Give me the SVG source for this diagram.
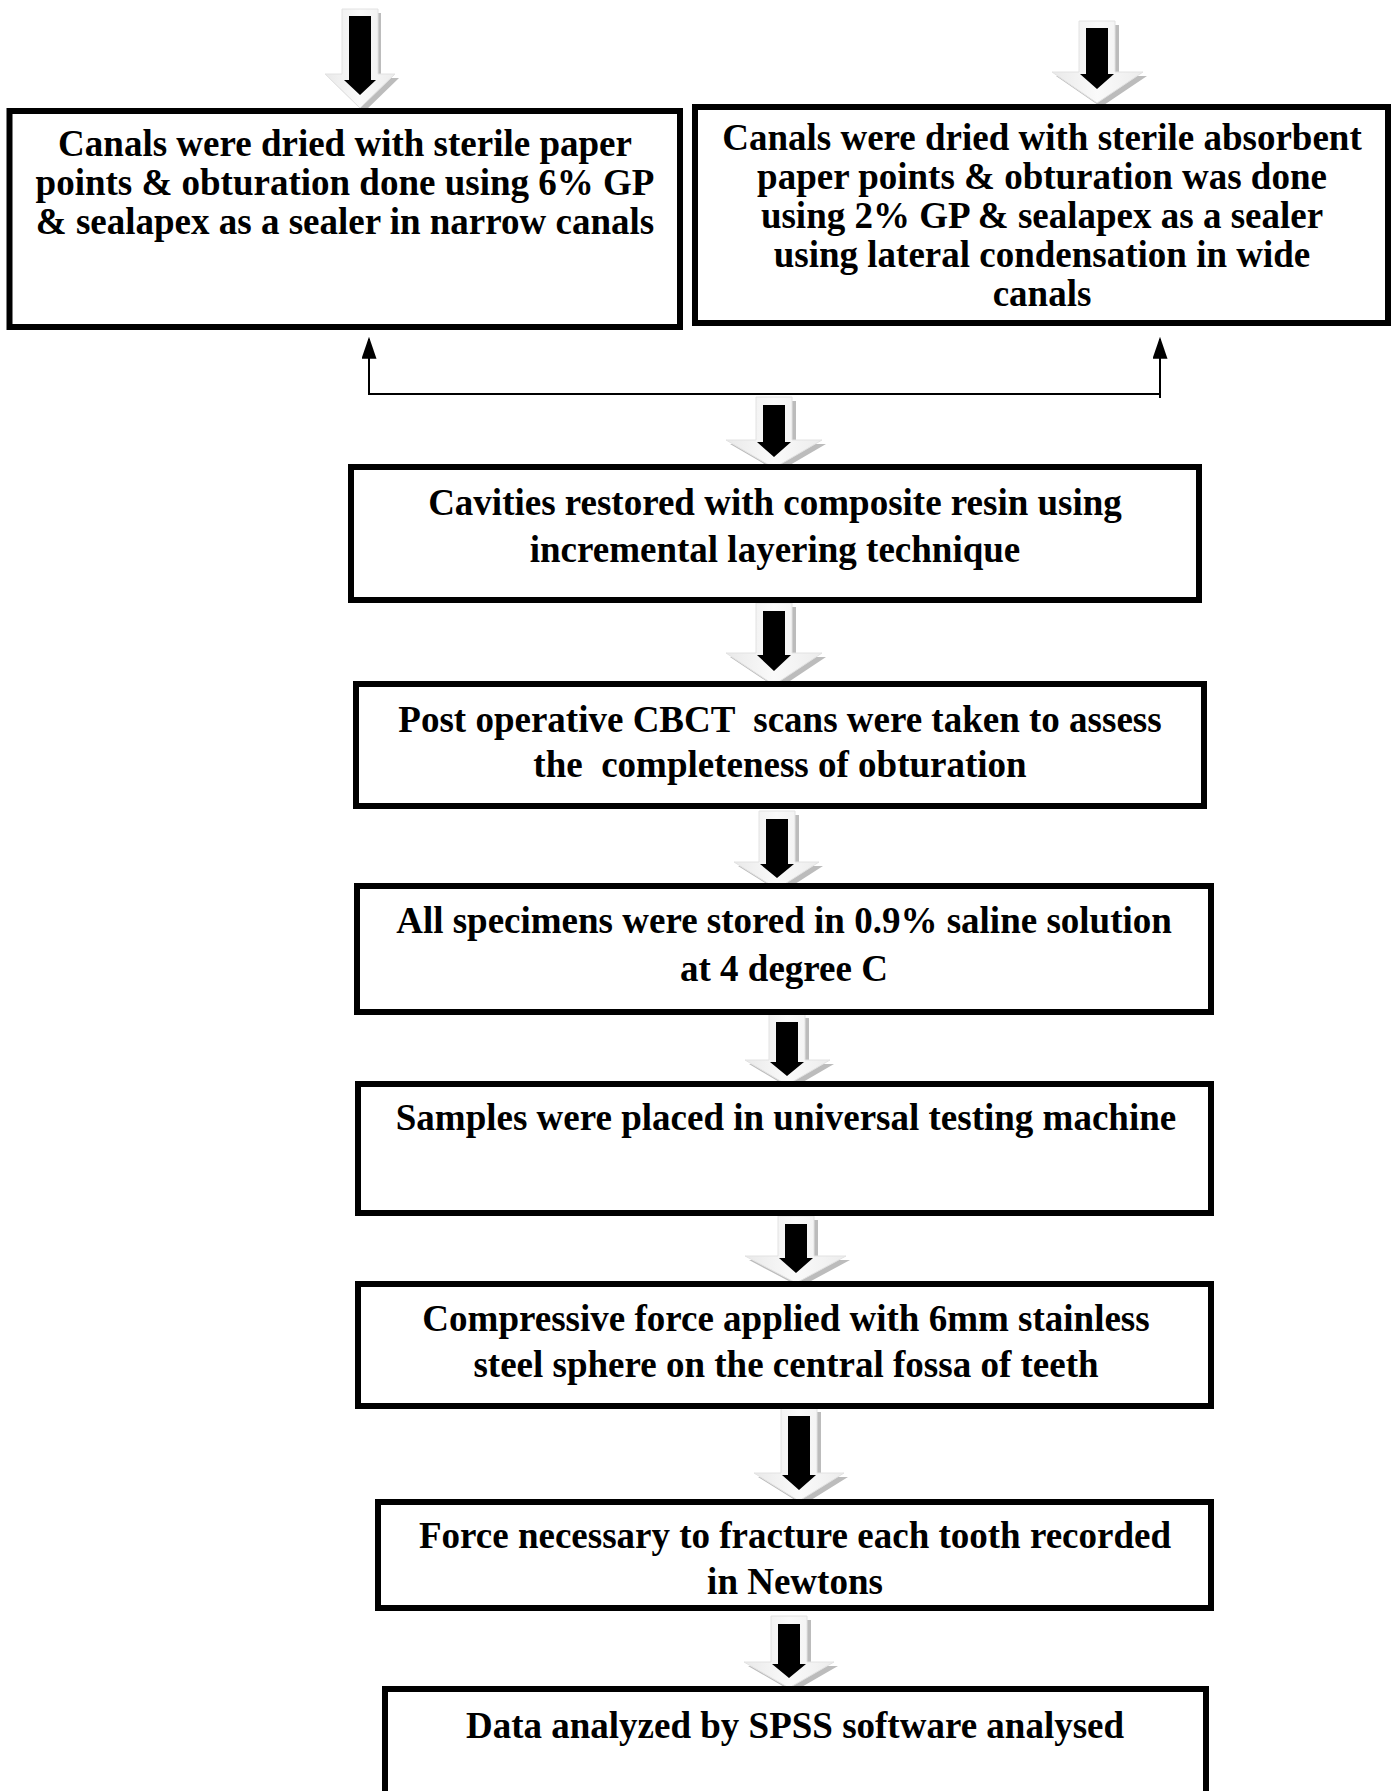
<svg xmlns="http://www.w3.org/2000/svg" width="1398" height="1791" viewBox="0 0 1398 1791">
<style>
.box{fill:#fff;stroke:#000;stroke-width:6}
.t{font-family:"Liberation Serif","Times New Roman",serif;font-weight:bold;font-size:37px;text-anchor:middle;fill:#000;white-space:pre}
.sh{fill:#bcbcbc}
.lt{fill:url(#lg);stroke:#e2e2e2;stroke-width:1}
.bk{fill:#000}
.ln{fill:none;stroke:#000;stroke-width:2}
</style>
<defs>
<linearGradient id="lg" x1="0" y1="0" x2="1" y2="0">
<stop offset="0" stop-color="#e9e9e9"/>
<stop offset="0.5" stop-color="#fafafa"/>
<stop offset="1" stop-color="#ececec"/>
</linearGradient>
<marker id="ah" viewBox="0 0 10 10" refX="9" refY="5" markerWidth="22" markerHeight="15" markerUnits="userSpaceOnUse" orient="auto" preserveAspectRatio="none">
<path d="M0,0 L10,5 L0,10 z" fill="#000"/>
</marker>
</defs>
<rect width="1398" height="1791" fill="#fff"/>

<g id="connectors">
<g id="a1"><polygon class="sh" points="345,13 381,13 381,78 399,78 364,112 329,78 345,78"/><polygon class="lt" points="342,9 378,9 378,74 395,74 360,108 325,74 342,74"/><polygon class="bk" points="349,16 371,16 371,80 376,80 360,95 344,80 349,80"/></g>
<g id="a2"><polygon class="sh" points="1083,25 1119,25 1119,76 1147,76 1101,107 1056,76 1083,76"/><polygon class="lt" points="1079,21 1115,21 1115,72 1143,72 1097,103 1052,72 1079,72"/><polygon class="bk" points="1086,28 1108,28 1108,74 1114,74 1097,89 1080,74 1086,74"/></g>
<g id="a3"><polygon class="sh" points="760,401 796,401 796,444 826,444 778,472 730,444 760,444"/><polygon class="lt" points="756,397 792,397 792,440 822,440 774,468 726,440 756,440"/><polygon class="bk" points="763,405 785,405 785,442 791,442 774,457 757,442 763,442"/></g>
<g id="a4"><polygon class="sh" points="760,607 796,607 796,657 826,657 778,689 730,657 760,657"/><polygon class="lt" points="756,603 792,603 792,653 822,653 774,685 726,653 756,653"/><polygon class="bk" points="763,611 785,611 785,655 791,655 774,671 757,655 763,655"/></g>
<g id="a5"><polygon class="sh" points="763,815 799,815 799,866 823,866 781,893 738,866 763,866"/><polygon class="lt" points="759,811 795,811 795,862 819,862 777,889 734,862 759,862"/><polygon class="bk" points="766,819 788,819 788,864 794,864 777,878 760,864 766,864"/></g>
<g id="a6"><polygon class="sh" points="773,1018 809,1018 809,1064 834,1064 791,1089 749,1064 773,1064"/><polygon class="lt" points="769,1014 805,1014 805,1060 830,1060 787,1085 745,1060 769,1060"/><polygon class="bk" points="776,1022 798,1022 798,1062 804,1062 787,1076 770,1062 776,1062"/></g>
<g id="a7"><polygon class="sh" points="782,1220 818,1220 818,1260 850,1260 800,1287 749,1260 782,1260"/><polygon class="lt" points="778,1216 814,1216 814,1256 846,1256 796,1283 745,1256 778,1256"/><polygon class="bk" points="785,1224 807,1224 807,1258 813,1258 796,1273 779,1258 785,1258"/></g>
<g id="a8"><polygon class="sh" points="785,1412 821,1412 821,1477 848,1477 803,1505 758,1477 785,1477"/><polygon class="lt" points="781,1408 817,1408 817,1473 844,1473 799,1501 754,1473 781,1473"/><polygon class="bk" points="788,1416 810,1416 810,1475 816,1475 799,1490 782,1475 788,1475"/></g>
<g id="a9"><polygon class="sh" points="775,1620 811,1620 811,1666 838,1666 793,1692 748,1666 775,1666"/><polygon class="lt" points="771,1616 807,1616 807,1662 834,1662 789,1688 744,1662 771,1662"/><polygon class="bk" points="778,1624 800,1624 800,1664 806,1664 789,1678 772,1664 778,1664"/></g>
<g id="split">
<path class="ln" d="M369,394 H1160 V398"/>
<path class="ln" d="M369,395 V339" marker-end="url(#ah)"/>
<path class="ln" d="M1160,395 V339" marker-end="url(#ah)"/>
</g>
</g>

<g id="n1"><rect class="box" x="9.5" y="111" width="670.5" height="216" stroke-width="7"/>
<text class="t" x="345" y="156">Canals were dried with sterile paper</text>
<text class="t" x="345" y="195">points &amp; obturation done using 6% GP</text>
<text class="t" x="345" y="234">&amp; sealapex as a sealer in narrow canals</text></g>

<g id="n2"><rect class="box" x="695" y="107" width="693" height="216" stroke-width="7"/>
<text class="t" x="1042" y="150">Canals were dried with sterile absorbent</text>
<text class="t" x="1042" y="189">paper points &amp; obturation was done</text>
<text class="t" x="1042" y="228">using 2% GP &amp; sealapex as a sealer</text>
<text class="t" x="1042" y="267">using lateral condensation in wide</text>
<text class="t" x="1042" y="306">canals</text></g>

<g id="n3"><rect class="box" x="351" y="467" width="848" height="133"/>
<text class="t" x="775" y="515">Cavities restored with composite resin using</text>
<text class="t" x="775" y="562">incremental layering technique</text></g>

<g id="n4"><rect class="box" x="356" y="684" width="848" height="122"/>
<text class="t" x="780" y="732">Post operative CBCT  scans were taken to assess</text>
<text class="t" x="780" y="777">the  completeness of obturation</text></g>

<g id="n5"><rect class="box" x="357" y="886" width="854" height="126"/>
<text class="t" x="784" y="933">All specimens were stored in 0.9% saline solution</text>
<text class="t" x="784" y="981">at 4 degree C</text></g>

<g id="n6"><rect class="box" x="358" y="1084" width="853" height="129"/>
<text class="t" x="786" y="1130">Samples were placed in universal testing machine</text></g>

<g id="n7"><rect class="box" x="358" y="1284" width="853" height="122"/>
<text class="t" x="786" y="1331">Compressive force applied with 6mm stainless</text>
<text class="t" x="786" y="1377">steel sphere on the central fossa of teeth</text></g>

<g id="n8"><rect class="box" x="378" y="1502" width="833" height="106"/>
<text class="t" x="795" y="1548">Force necessary to fracture each tooth recorded</text>
<text class="t" x="795" y="1594">in Newtons</text></g>

<g id="n9"><rect class="box" x="385" y="1689" width="821" height="130"/>
<text class="t" x="795" y="1738">Data analyzed by SPSS software analysed</text></g>
</svg>
